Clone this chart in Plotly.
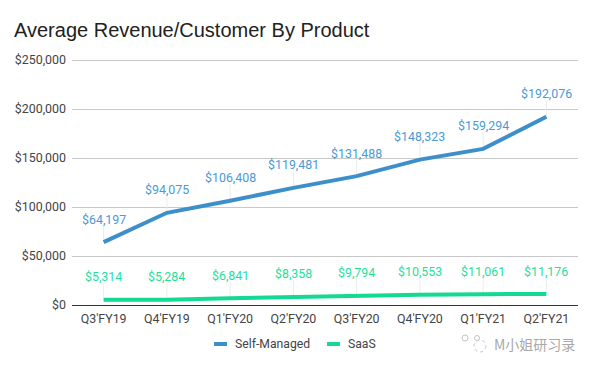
import plotly.graph_objects as go

quarters = ["Q3'FY19", "Q4'FY19", "Q1'FY20", "Q2'FY20", "Q3'FY20", "Q4'FY20", "Q1'FY21", "Q2'FY21"]
self_managed = [64197, 94075, 106408, 119481, 131488, 148323, 159294, 192076]
saas = [5314, 5284, 6841, 8358, 9794, 10553, 11061, 11176]
y_ticks = [0, 50000, 100000, 150000, 200000, 250000]
leader = 17000

BLUE = "#3d8fcc"
GREEN = "#14d992"
BLUE_T = "#4a9ad6"
GREEN_T = "#1fdf9c"
FONT = "Roboto, Arial, sans-serif"
W, H, L, R, T, B = 592, 370, 72, 14, 58, 65


def px(x):
    return (x - L) / (W - L - R)


def py(y):
    return (H - B - y) / (H - T - B)


fig = go.Figure()
for name, vals, col in [("Self-Managed", self_managed, BLUE), ("SaaS", saas, GREEN)]:
    fig.add_trace(go.Scatter(
        x=quarters, y=vals, name=name, mode="lines", showlegend=False,
        line=dict(color=col, width=4),
        error_y=dict(type="data", symmetric=False, array=[leader] * len(vals),
                     arrayminus=[0] * len(vals), color="#ececec", thickness=1, width=0),
    ))

annotations = []
for vals, col in [(self_managed, BLUE_T), (saas, GREEN_T)]:
    for q, v in zip(quarters, vals):
        annotations.append(dict(x=q, y=v, text=f"${v:,}", showarrow=False, yshift=23,
                                xanchor="center", yanchor="middle",
                                font=dict(color=col, size=12.4, family=FONT)))

shapes = []
for x0, x1, label, col in [(214, 227, "Self-Managed", BLUE), (327, 340, "SaaS", GREEN)]:
    shapes.append(dict(type="line", xref="paper", yref="paper", x0=px(x0), x1=px(x1), y0=py(344), y1=py(344),
                       line=dict(color=col, width=4)))
    annotations.append(dict(xref="paper", yref="paper", x=px(x1 + 6), y=py(344), xanchor="left", yanchor="middle",
                            text=label, showarrow=False, font=dict(size=12.2, color="#444444", family=FONT)))

annotations.append(dict(xref="paper", yref="paper", x=px(577), y=py(344), xanchor="right", yanchor="middle",
                        text="M小姐研习录", showarrow=False,
                        font=dict(size=14, color="#a8a8a8", family="Noto Sans CJK SC")))
for cx, cy, r, dash in [(465, 338, 3, "solid"), (477, 338, 2.5, "solid"), (480, 346, 6, "dot")]:
    shapes.append(dict(type="circle", xref="paper", yref="paper", x0=px(cx - r), x1=px(cx + r),
                       y0=py(cy + r), y1=py(cy - r), line=dict(color="#c4c4c4", width=1, dash=dash),
                       fillcolor="white"))

fig.update_layout(
    width=W, height=H, autosize=False,
    margin=dict(l=L, r=R, t=T, b=B),
    paper_bgcolor="white", plot_bgcolor="white",
    font=dict(family=FONT, color="#444444", size=12),
    title=dict(text="Average Revenue/Customer By Product", x=14 / W, xanchor="left",
               y=1 - 30 / H, yanchor="middle",
               font=dict(size=20, color="#212121", family="Liberation Sans, Arial, sans-serif")),
    xaxis=dict(type="category", range=[-0.5, 7.5], showgrid=False, ticks="", showline=True,
               linecolor="#333333", linewidth=1, ticklabelstandoff=2,
               tickfont=dict(size=12.4, color="#444444"), fixedrange=True),
    yaxis=dict(range=[0, 252041], tickvals=y_ticks, tickformat="$,.0f", gridcolor="#c9c9c9", gridwidth=1,
               zeroline=False, ticks="", ticklabelstandoff=5, showline=False,
               tickfont=dict(size=12.4, color="#444444"), fixedrange=True),
    showlegend=False,
    annotations=annotations,
    shapes=shapes,
)
fig.write_html("out.html", config={"displayModeBar": False}, post_script="document.body.style.margin='0';")
